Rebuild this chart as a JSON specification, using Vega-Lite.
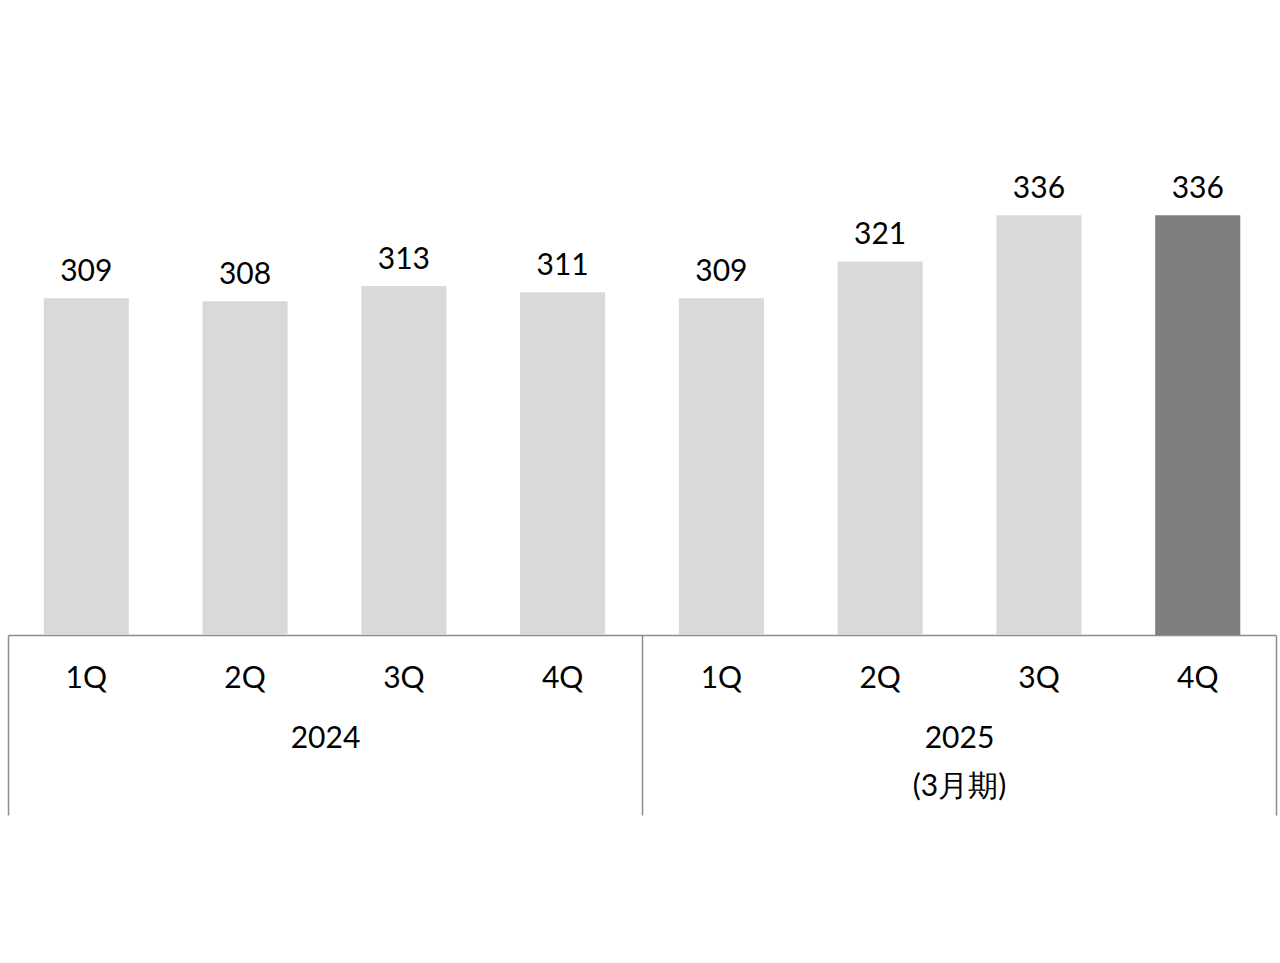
{
  "$schema": "https://vega.github.io/schema/vega-lite/v6.json",
  "width": 1268,
  "height": 615,
  "autosize": {"type": "none"},
  "padding": {"left": 8, "top": 20, "right": 4, "bottom": 328},
  "background": "white",
  "config": {
    "view": {"stroke": null},
    "font": "Lato",
    "axis": {"labelFont": "Lato", "labelColor": "#000000", "grid": false}
  },
  "data": {
    "values": [
      {"key": "2024-1Q", "q": "1Q", "year": "2024", "value": 309, "hl": "no"},
      {"key": "2024-2Q", "q": "2Q", "year": "2024", "value": 308, "hl": "no"},
      {"key": "2024-3Q", "q": "3Q", "year": "2024", "value": 313, "hl": "no"},
      {"key": "2024-4Q", "q": "4Q", "year": "2024", "value": 311, "hl": "no"},
      {"key": "2025-1Q", "q": "1Q", "year": "2025", "value": 309, "hl": "no"},
      {"key": "2025-2Q", "q": "2Q", "year": "2025", "value": 321, "hl": "no"},
      {"key": "2025-3Q", "q": "3Q", "year": "2025", "value": 336, "hl": "no"},
      {"key": "2025-4Q", "q": "4Q", "year": "2025", "value": 336, "hl": "yes"}
    ]
  },
  "layer": [
    {
      "encoding": {
        "x": {
          "field": "key",
          "type": "nominal",
          "sort": null,
          "scale": {"paddingInner": 0.464, "paddingOuter": 0.225},
          "axis": {
            "title": null,
            "orient": "bottom",
            "labelExpr": "slice(datum.value, 5)",
            "labelAngle": 0,
            "labelFontSize": 30,
            "labelPadding": 28,
            "ticks": false,
            "domain": true,
            "domainColor": "#8c8c8c",
            "domainWidth": 1.5
          }
        },
        "y": {
          "field": "value",
          "type": "quantitative",
          "scale": {"domain": [199.5, 399.5], "nice": false, "zero": false},
          "axis": null
        }
      },
      "layer": [
        {
          "mark": {"type": "bar", "clip": true},
          "encoding": {
            "color": {
              "field": "hl",
              "type": "nominal",
              "scale": {"domain": ["no", "yes"], "range": ["#d9d9d9", "#7f7f7f"]},
              "legend": null
            }
          }
        },
        {
          "mark": {"type": "text", "baseline": "alphabetic", "dy": -17, "fontSize": 30, "color": "#000000", "font": "Lato"},
          "encoding": {"text": {"field": "value", "type": "quantitative"}}
        }
      ]
    },
    {
      "mark": {"type": "rule", "opacity": 0},
      "encoding": {
        "x": {
          "field": "year",
          "type": "nominal",
          "scale": {"paddingInner": 0, "paddingOuter": 0},
          "axis": {
            "title": null,
            "orient": "bottom",
            "labelAngle": 0,
            "labelFontSize": 30,
            "labelLineHeight": 48,
            "labelExpr": "datum.value == '2025' ? ['2025', '(3月期)'] : datum.value",
            "tickBand": "extent",
            "tickSize": 180,
            "tickColor": "#8c8c8c",
            "tickWidth": 1.5,
            "labelPadding": -92,
            "domain": false
          }
        }
      }
    }
  ],
  "resolve": {"scale": {"x": "independent"}, "axis": {"x": "independent"}}
}
